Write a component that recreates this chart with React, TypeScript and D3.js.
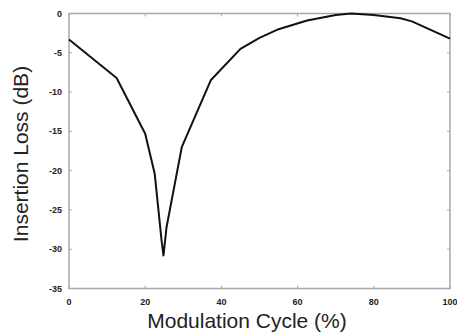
import { useEffect, useRef } from "react";
import * as d3 from "d3";

const cycle = [0, 12.5, 20, 22.5, 24.3, 24.8, 25.6, 29.6, 37.2, 45, 50, 55, 62.5, 70, 74, 80, 87, 90, 100];
const loss = [-3.3, -8.2, -15.3, -20.4, -28.9, -30.8, -27.2, -17, -8.5, -4.5, -3.1, -2.0, -0.9, -0.2, 0, -0.2, -0.6, -1.0, -3.2];
const xTicks = [0, 20, 40, 60, 80, 100];
const yTicks = [0, -5, -10, -15, -20, -25, -30, -35];

export default function App() {
  const ref = useRef<SVGSVGElement>(null);

  useEffect(() => {
    const svg = d3.select(ref.current);
    svg.selectAll("*").remove();
    const left = 69, right = 450, top = 13.5, bottom = 288.5;
    const x = d3.scaleLinear().domain([0, 100]).range([left, right]);
    const y = d3.scaleLinear().domain([-35, 0]).range([bottom, top]);
    const font = "'Liberation Sans', Arial, sans-serif";
    const gray = "#a8a8a8";

    svg.append("rect").attr("width", 457).attr("height", 335).attr("fill", "#fff");

    // frame
    svg.append("rect")
      .attr("x", left).attr("y", top)
      .attr("width", right - left).attr("height", bottom - top)
      .attr("fill", "none").attr("stroke", gray).attr("stroke-width", 1.5);

    // ticks (inward on all sides)
    xTicks.forEach(t => {
      svg.append("line").attr("x1", x(t)).attr("x2", x(t)).attr("y1", bottom).attr("y2", bottom - 3)
        .attr("stroke", gray).attr("stroke-width", 1);
      svg.append("line").attr("x1", x(t)).attr("x2", x(t)).attr("y1", top).attr("y2", top + 3)
        .attr("stroke", gray).attr("stroke-width", 1);
      svg.append("text").attr("x", x(t)).attr("y", 305)
        .attr("text-anchor", "middle").attr("font-family", font).attr("font-size", 9)
        .attr("font-weight", "bold").attr("fill", "#222").text(t);
    });
    yTicks.forEach(t => {
      svg.append("line").attr("x1", left).attr("x2", left + 3).attr("y1", y(t)).attr("y2", y(t))
        .attr("stroke", gray).attr("stroke-width", 1);
      svg.append("line").attr("x1", right).attr("x2", right - 3).attr("y1", y(t)).attr("y2", y(t))
        .attr("stroke", gray).attr("stroke-width", 1);
      svg.append("text").attr("x", 62).attr("y", y(t) + 3)
        .attr("text-anchor", "end").attr("font-family", font).attr("font-size", 9)
        .attr("font-weight", "bold").attr("fill", "#222").text(t);
    });

    const data = cycle.map((c, i) => [c, loss[i]] as [number, number]);
    const line = d3.line<[number, number]>().x(d => x(d[0])).y(d => y(d[1]));
    svg.append("path").attr("d", line(data)).attr("fill", "none")
      .attr("stroke", "#111").attr("stroke-width", 2).attr("stroke-linejoin", "round");

    svg.append("text").attr("x", 247).attr("y", 328)
      .attr("text-anchor", "middle").attr("font-family", font).attr("font-size", 21)
      .attr("fill", "#222").text("Modulation Cycle (%)");
    svg.append("text").attr("transform", "translate(28,154) rotate(-90)")
      .attr("text-anchor", "middle").attr("font-family", font).attr("font-size", 21)
      .attr("fill", "#222").text("Insertion Loss (dB)");
  }, []);

  return (
    <svg ref={ref} width={457} height={335}
      style={{ display: "block", position: "absolute", left: 0, top: 0 }} />
  );
}
